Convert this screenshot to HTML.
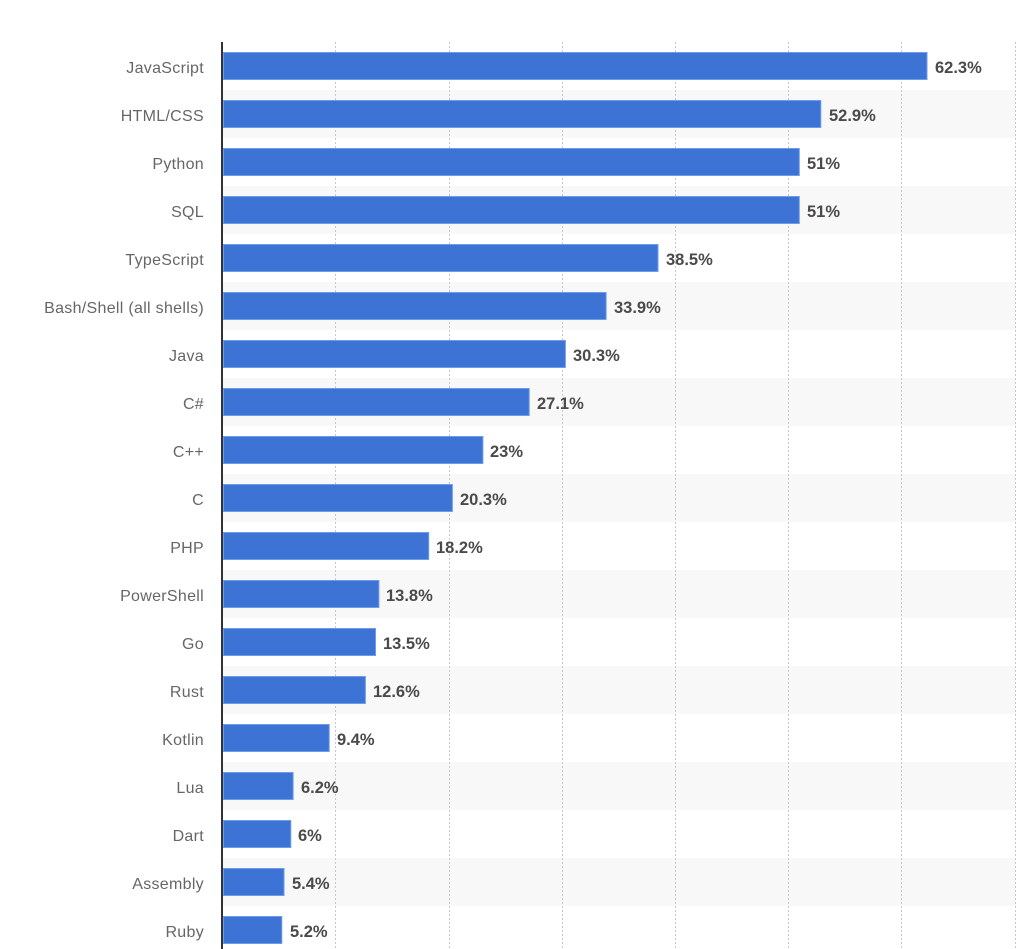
<!DOCTYPE html>
<html><head><meta charset="utf-8"><style>
html,body{margin:0;padding:0;background:#fff;}
svg{display:block;}
.l{font-family:"Liberation Sans",Arial,sans-serif;font-size:16px;letter-spacing:0.3px;fill:#666;}
.v{font-family:"Liberation Sans",Arial,sans-serif;font-size:16.5px;font-weight:bold;fill:#4a4a4a;}
</style></head><body>
<svg width="1024" height="949" viewBox="0 0 1024 949" xmlns="http://www.w3.org/2000/svg">
<rect x="0" y="0" width="1024" height="949" fill="#fff"/>
<g fill="#f8f8f8">
<rect x="223" y="90" width="793" height="48"/>
<rect x="223" y="186" width="793" height="48"/>
<rect x="223" y="282" width="793" height="48"/>
<rect x="223" y="378" width="793" height="48"/>
<rect x="223" y="474" width="793" height="48"/>
<rect x="223" y="570" width="793" height="48"/>
<rect x="223" y="666" width="793" height="48"/>
<rect x="223" y="762" width="793" height="48"/>
<rect x="223" y="858" width="793" height="48"/>
</g>
<g stroke="#c8c8c8" stroke-width="1" stroke-dasharray="2,2">
<line x1="335.5" y1="42" x2="335.5" y2="949"/>
<line x1="449.5" y1="42" x2="449.5" y2="949"/>
<line x1="562.5" y1="42" x2="562.5" y2="949"/>
<line x1="675.5" y1="42" x2="675.5" y2="949"/>
<line x1="788.5" y1="42" x2="788.5" y2="949"/>
<line x1="901.5" y1="42" x2="901.5" y2="949"/>
<line x1="1015.5" y1="42" x2="1015.5" y2="949"/>
</g>
<g fill="#3e73d6" stroke="#6e9ce8" stroke-width="1">
<rect x="223.5" y="52.5" width="703.5" height="27"/>
<rect x="223.5" y="100.5" width="597.3" height="27"/>
<rect x="223.5" y="148.5" width="575.8" height="27"/>
<rect x="223.5" y="196.5" width="575.8" height="27"/>
<rect x="223.5" y="244.5" width="434.5" height="27"/>
<rect x="223.5" y="292.5" width="382.6" height="27"/>
<rect x="223.5" y="340.5" width="341.9" height="27"/>
<rect x="223.5" y="388.5" width="305.7" height="27"/>
<rect x="223.5" y="436.5" width="259.4" height="27"/>
<rect x="223.5" y="484.5" width="228.9" height="27"/>
<rect x="223.5" y="532.5" width="205.2" height="27"/>
<rect x="223.5" y="580.5" width="155.4" height="27"/>
<rect x="223.5" y="628.5" width="152.0" height="27"/>
<rect x="223.5" y="676.5" width="141.9" height="27"/>
<rect x="223.5" y="724.5" width="105.7" height="27"/>
<rect x="223.5" y="772.5" width="69.6" height="27"/>
<rect x="223.5" y="820.5" width="67.3" height="27"/>
<rect x="223.5" y="868.5" width="60.5" height="27"/>
<rect x="223.5" y="916.5" width="58.3" height="27"/>
</g>
<rect x="221" y="42" width="2" height="907" fill="#333"/>
<g class="l" text-anchor="end">
<text x="204" y="73">JavaScript</text>
<text x="204" y="121">HTML/CSS</text>
<text x="204" y="169">Python</text>
<text x="204" y="217">SQL</text>
<text x="204" y="265">TypeScript</text>
<text x="204" y="313">Bash/Shell (all shells)</text>
<text x="204" y="361">Java</text>
<text x="204" y="409">C#</text>
<text x="204" y="457">C++</text>
<text x="204" y="505">C</text>
<text x="204" y="553">PHP</text>
<text x="204" y="601">PowerShell</text>
<text x="204" y="649">Go</text>
<text x="204" y="697">Rust</text>
<text x="204" y="745">Kotlin</text>
<text x="204" y="793">Lua</text>
<text x="204" y="841">Dart</text>
<text x="204" y="889">Assembly</text>
<text x="204" y="937">Ruby</text>
</g>
<g class="v">
<text x="935" y="73">62.3%</text>
<text x="829" y="121">52.9%</text>
<text x="807" y="169">51%</text>
<text x="807" y="217">51%</text>
<text x="666" y="265">38.5%</text>
<text x="614" y="313">33.9%</text>
<text x="573" y="361">30.3%</text>
<text x="537" y="409">27.1%</text>
<text x="490" y="457">23%</text>
<text x="460" y="505">20.3%</text>
<text x="436" y="553">18.2%</text>
<text x="386" y="601">13.8%</text>
<text x="383" y="649">13.5%</text>
<text x="373" y="697">12.6%</text>
<text x="337" y="745">9.4%</text>
<text x="301" y="793">6.2%</text>
<text x="298" y="841">6%</text>
<text x="292" y="889">5.4%</text>
<text x="290" y="937">5.2%</text>
</g>
</svg>
</body></html>
